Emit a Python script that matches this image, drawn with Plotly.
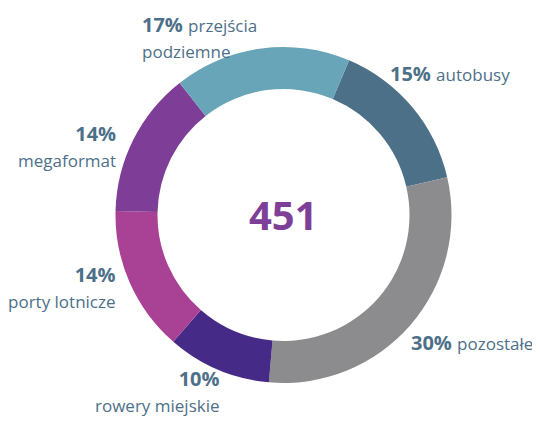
import plotly.graph_objects as go

# dane
categories = ["autobusy", "pozostałe", "rowery miejskie", "porty lotnicze", "megaformat", "przejścia podziemne"]
shares = [15, 30, 10, 14, 14, 17]
total = 451

COLORS = ["#4d7089", "#8c8c8e", "#462a87", "#a94294", "#7e3d96", "#68a5b8"]
COLOR_LABEL = "#4d7089"
COLOR_CENTER = "#7e3f98"
FONT = "Open Sans, sans-serif"

W, H = 540, 423
OFF = 8  # page body margin


def px(x):
    return (x - OFF) / W


def py(y):
    return 1 - (y - OFF) / H


# label placement in page pixels: (x, y, anchor, percent on its own line)
label_pos = {
    "autobusy": (388, 73, "left", False),
    "pozostałe": (409, 342, "left", False),
    "rowery miejskie": (222, 391, "right", True),
    "porty lotnicze": (118, 287, "right", True),
    "megaformat": (118, 146, "right", True),
    "przejścia podziemne": (140, 37, "left", False),
}

fig = go.Figure(go.Pie(
    labels=categories,
    values=shares,
    sort=False,
    direction="clockwise",
    rotation=23,
    hole=0.75,
    marker={"colors": COLORS, "line": {"color": "#ffffff", "width": 0}},
    textinfo="none",
    hoverinfo="label+percent",
    showlegend=False,
    domain={"x": [px(115.5), px(451.5)], "y": [py(383), py(47)]},
))

annotations = []
for cat, val in zip(categories, shares):
    x, y, anchor, two_lines = label_pos[cat]
    name = cat.replace(" ", "<br>") if cat == "przejścia podziemne" else cat
    name = name.replace("<br>", "</span><br><span style='font-size:17px'>")
    sep = "<br>" if two_lines else " "
    text = f"<b>{val}%</b>{sep}<span style='font-size:17px'>{name}</span>"
    annotations.append({
        "x": px(x), "y": py(y), "xref": "paper", "yref": "paper",
        "xanchor": anchor, "yanchor": "middle", "align": anchor,
        "text": text, "showarrow": False,
        "font": {"size": 20, "color": COLOR_LABEL, "family": FONT},
    })

annotations.append({
    "x": px(283.5), "y": py(215), "xref": "paper", "yref": "paper",
    "xanchor": "center", "yanchor": "middle",
    "text": f"<b>{total}</b>", "showarrow": False,
    "font": {"size": 40, "color": COLOR_CENTER, "family": FONT},
})

fig.update_layout(
    width=W, height=H,
    margin={"l": 0, "r": 0, "t": 0, "b": 0},
    paper_bgcolor="#ffffff",
    plot_bgcolor="#ffffff",
    annotations=annotations,
)

fig.write_html("out.html")
